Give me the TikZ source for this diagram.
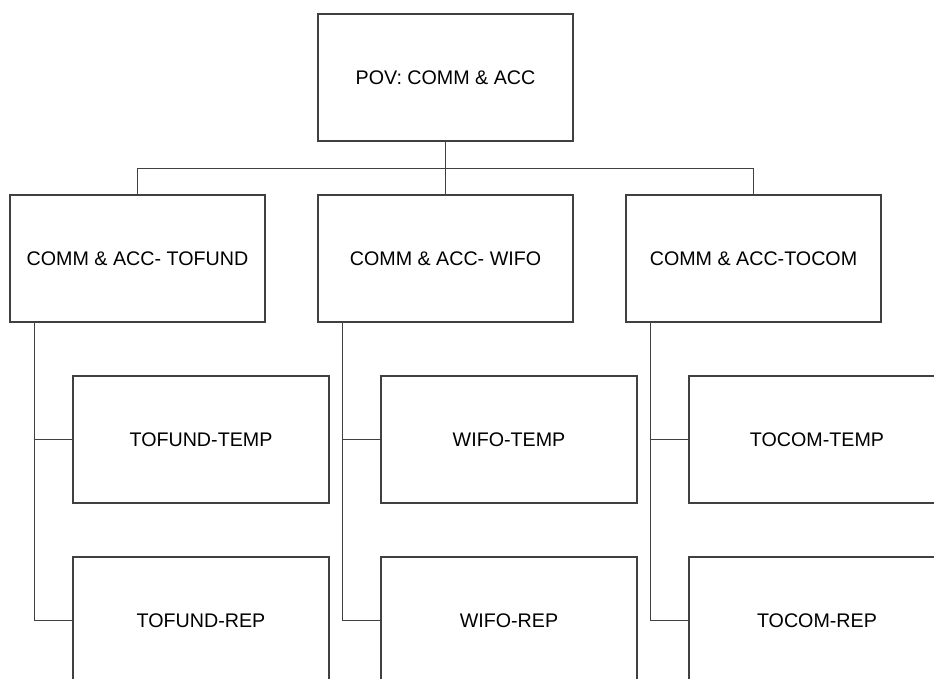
\documentclass[tikz,border=0pt]{standalone}
\usepackage{fontspec}
\setmainfont{Liberation Sans}

\tikzset{
  unit/.style={draw=black!75, line width=0.75pt, minimum width=5.1cm, minimum height=2.54cm,
    inner sep=0pt, font=\fontsize{11.2}{13}\selectfont},
  link/.style={draw=black!75, line width=0.75pt}
}

\begin{document}
\begin{tikzpicture}[x=0.02cm, y=-0.02cm]
  \useasboundingbox (0,0) rectangle (934,679);
  \clip (0,0) rectangle (934,679);
  \node[unit] (root) at (445.5,77.5) {POV: COMM \& ACC};
  \foreach \i/\mid/\sub in {0/COMM \& ACC- TOFUND/TOFUND, 1/COMM \& ACC- WIFO/WIFO, 2/COMM \& ACC-TOCOM/TOCOM} {
    \node[unit] (m\i) at (137.5+308*\i,258.5) {\mid};
    \node[unit, minimum width=5.12cm] (t\i) at (201+308*\i,439.5) {\sub-TEMP};
    \node[unit, minimum width=5.12cm] (r\i) at (201+308*\i,620.5) {\sub-REP};
    \draw[link] ([xshift=0.5cm]m\i.south west) |- (t\i.west);
    \draw[link] ([xshift=0.5cm]m\i.south west) |- (r\i.west);
  }
  \draw[link] (root.south) -- (m1.north);
  \draw[link] (root.south) -- ++(0,27) -| (m0.north);
  \draw[link] (root.south) -- ++(0,27) -| (m2.north);
\end{tikzpicture}
\end{document}
